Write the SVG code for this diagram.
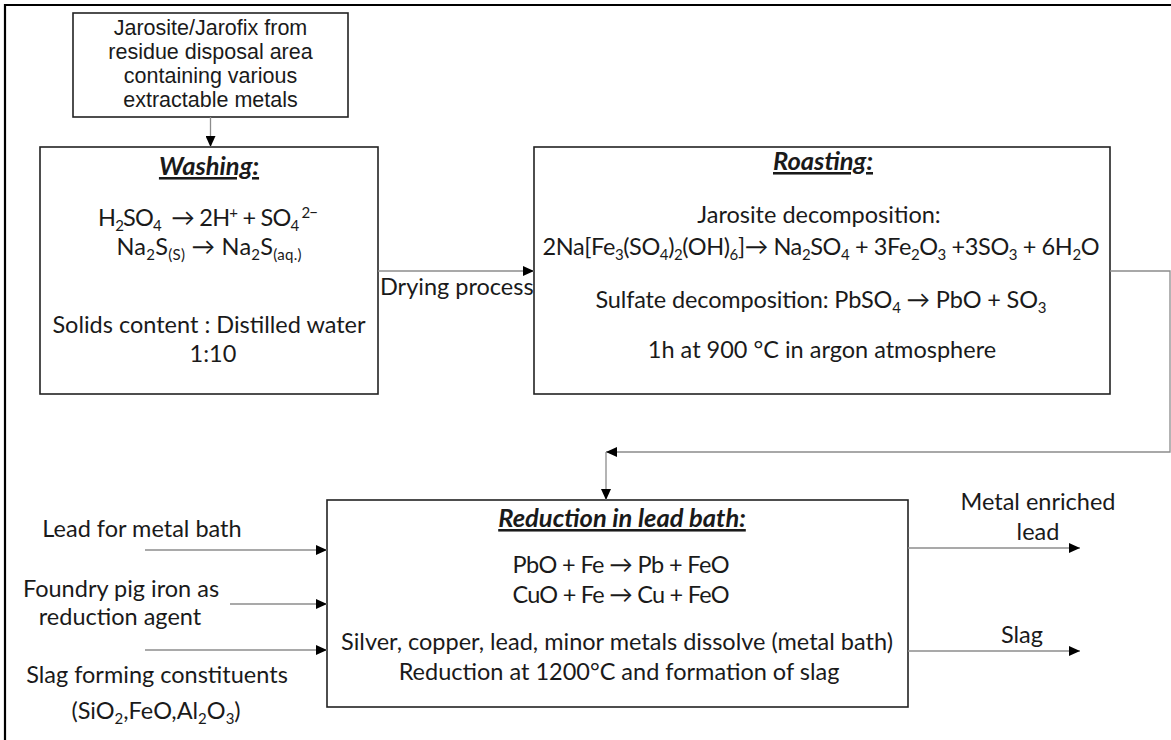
<svg xmlns="http://www.w3.org/2000/svg" width="1171" height="740" viewBox="0 0 1171 740">
<style>
.box{fill:#fff;stroke:#222;stroke-width:1.6}
.con{fill:none;stroke:#8c8c8c;stroke-width:1.3}
.a{font-family:"Liberation Sans",Arial,sans-serif;font-size:21.5px;fill:#1a1a1a}
.c{font-family:Lato,"Open Sans",sans-serif;font-size:23.5px;fill:#1a1a1a}
.h{font-size:25.5px;font-weight:bold;font-style:italic;text-decoration:underline}
.sub{font-size:15px}
.sup{font-size:15px}
</style>
<defs>
<marker id="ah" markerUnits="userSpaceOnUse" markerWidth="11" markerHeight="10" refX="11" refY="5" orient="auto">
<path d="M0,0 L11,5 L0,10 z" fill="#000"/>
</marker>
</defs>
<rect width="1171" height="740" fill="#fff"/>
<path d="M5,740 V5 H1171" fill="none" stroke="#000" stroke-width="2.2"/>

<g id="source">
<rect class="box" x="73" y="13" width="275" height="104"/>
<text class="a" text-anchor="middle" x="210.5" y="35">Jarosite/Jarofix from</text>
<text class="a" text-anchor="middle" x="210.5" y="59">residue disposal area</text>
<text class="a" text-anchor="middle" x="210.5" y="83">containing various</text>
<text class="a" text-anchor="middle" x="210.5" y="107">extractable metals</text>
</g>

<g id="washing">
<rect class="box" x="40" y="147" width="338" height="247"/>
<text class="c h" text-anchor="middle" x="209" y="175">Washing:</text>
<text class="c" text-anchor="middle" x="208" y="226" textLength="220">H<tspan class="sub" dy="4.5">2</tspan><tspan dy="-4.5">SO</tspan><tspan class="sub" dy="4.5">4</tspan><tspan dy="-4.5">&#160; → 2H</tspan><tspan class="sup" dy="-8">+</tspan><tspan dy="8"> + SO</tspan><tspan class="sub" dy="4.5">4</tspan><tspan class="sup" dy="-12.5"> 2−</tspan></text>
<text class="c" text-anchor="middle" x="209" y="255" textLength="185">Na<tspan class="sub" dy="4.5">2</tspan><tspan dy="-4.5">S</tspan><tspan class="sub" dy="4.5">(S)</tspan><tspan dy="-4.5"> → Na</tspan><tspan class="sub" dy="4.5">2</tspan><tspan dy="-4.5">S</tspan><tspan class="sub" dy="4.5">(aq.)</tspan></text>
<text class="c" text-anchor="middle" x="209" y="333">Solids content : Distilled water</text>
<text class="c" text-anchor="middle" x="213" y="362">1:10</text>
</g>

<g id="roasting">
<rect class="box" x="534" y="147" width="576" height="247"/>
<text class="c h" text-anchor="middle" x="823" y="170">Roasting:</text>
<text class="c" text-anchor="middle" x="819" y="223">Jarosite decomposition:</text>
<text class="c" text-anchor="middle" x="821" y="255" textLength="557">2Na[Fe<tspan class="sub" dy="4.5">3</tspan><tspan dy="-4.5">(SO</tspan><tspan class="sub" dy="4.5">4</tspan><tspan dy="-4.5">)</tspan><tspan class="sub" dy="4.5">2</tspan><tspan dy="-4.5">(OH)</tspan><tspan class="sub" dy="4.5">6</tspan><tspan dy="-4.5">]→ Na</tspan><tspan class="sub" dy="4.5">2</tspan><tspan dy="-4.5">SO</tspan><tspan class="sub" dy="4.5">4</tspan><tspan dy="-4.5"> + 3Fe</tspan><tspan class="sub" dy="4.5">2</tspan><tspan dy="-4.5">O</tspan><tspan class="sub" dy="4.5">3</tspan><tspan dy="-4.5"> +3SO</tspan><tspan class="sub" dy="4.5">3</tspan><tspan dy="-4.5"> + 6H</tspan><tspan class="sub" dy="4.5">2</tspan><tspan dy="-4.5">O</tspan></text>
<text class="c" text-anchor="middle" x="821" y="308" textLength="451">Sulfate decomposition: PbSO<tspan class="sub" dy="4.5">4</tspan><tspan dy="-4.5"> → PbO + SO</tspan><tspan class="sub" dy="4.5">3</tspan></text>
<text class="c" text-anchor="middle" x="822" y="358">1h at 900 °C in argon atmosphere</text>
</g>

<g id="reduction">
<rect class="box" x="327" y="500" width="581" height="207"/>
<text class="c h" text-anchor="middle" x="622" y="527">Reduction in lead bath:</text>
<text class="c" text-anchor="middle" x="621" y="573" textLength="217">PbO + Fe → Pb + FeO</text>
<text class="c" text-anchor="middle" x="621" y="603" textLength="217">CuO + Fe → Cu + FeO</text>
<text class="c" text-anchor="middle" x="617" y="650">Silver, copper, lead, minor metals dissolve (metal bath)</text>
<text class="c" text-anchor="middle" x="619" y="680">Reduction at 1200°C and formation of slag</text>
</g>

<g id="inputs">
<text class="c" text-anchor="middle" x="142" y="537">Lead for metal bath</text>
<text class="c" text-anchor="middle" x="121" y="597">Foundry pig iron as</text>
<text class="c" text-anchor="middle" x="120" y="625">reduction agent</text>
<text class="c" text-anchor="middle" x="157" y="683">Slag forming constituents</text>
<text class="c" text-anchor="middle" x="156" y="719">(SiO<tspan class="sub" dy="4.5">2</tspan><tspan dy="-4.5">,FeO,Al</tspan><tspan class="sub" dy="4.5">2</tspan><tspan dy="-4.5">O</tspan><tspan class="sub" dy="4.5">3</tspan><tspan dy="-4.5">)</tspan></text>
</g>

<g id="outputs">
<text class="c" text-anchor="middle" x="1038" y="510">Metal enriched</text>
<text class="c" text-anchor="middle" x="1038" y="540">lead</text>
<text class="c" text-anchor="middle" x="1022" y="643">Slag</text>
</g>

<g id="drying-label">
<text class="c" x="380" y="295">Drying process</text>
</g>

<g id="connectors">
<line class="con" x1="210.5" y1="117" x2="210.5" y2="147" marker-end="url(#ah)"/>
<line class="con" x1="378" y1="271" x2="534" y2="271" marker-end="url(#ah)"/>
<polyline class="con" points="1110,271 1170,271 1170,452 606,452" marker-end="url(#ah)"/>
<line class="con" x1="606" y1="452" x2="606" y2="500" marker-end="url(#ah)"/>
<line class="con" x1="145" y1="550" x2="327" y2="550" marker-end="url(#ah)"/>
<line class="con" x1="230" y1="604" x2="327" y2="604" marker-end="url(#ah)"/>
<line class="con" x1="145" y1="650" x2="327" y2="650" marker-end="url(#ah)"/>
<line class="con" x1="908" y1="548" x2="1080" y2="548" marker-end="url(#ah)"/>
<line class="con" x1="908" y1="651" x2="1080" y2="651" marker-end="url(#ah)"/>
</g>
</svg>
